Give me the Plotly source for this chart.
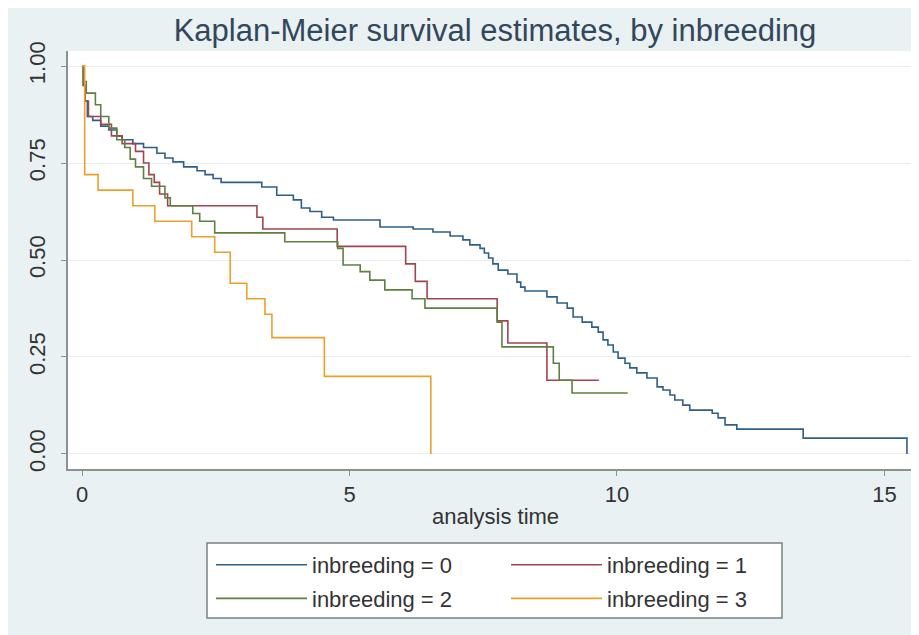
import plotly.graph_objects as go

# ---- data ----
names = ["inbreeding = 0", "inbreeding = 1", "inbreeding = 2", "inbreeding = 3"]
colors = ["#2f5f88", "#a04550", "#5f8040", "#eba02a"]

t0 = [0, 0.03, 0.06, 0.10, 0.20, 0.35, 0.50, 0.65, 0.75, 0.95, 1.15, 1.40, 1.55, 1.70, 1.90,
      2.15, 2.30, 2.45, 2.60, 3.36, 3.64, 3.95, 4.10, 4.26, 4.48, 4.70, 5.57, 6.19, 6.56, 6.88,
      7.12, 7.25, 7.44, 7.52, 7.60, 7.68, 7.78, 7.96, 8.13, 8.20, 8.28, 8.69, 8.88, 9.07, 9.18,
      9.35, 9.53, 9.65, 9.74, 9.83, 9.93, 10.02, 10.15, 10.24, 10.37, 10.56, 10.75, 10.86, 10.99,
      11.08, 11.23, 11.36, 11.78, 11.89, 12.02, 12.24, 13.48, 15.42]
s0 = [1, 0.95, 0.91, 0.87, 0.86, 0.845, 0.835, 0.82, 0.81, 0.80, 0.79, 0.775, 0.763, 0.753, 0.74,
      0.73, 0.72, 0.71, 0.70, 0.688, 0.667, 0.655, 0.634, 0.625, 0.61, 0.603, 0.585, 0.58, 0.572, 0.562,
      0.552, 0.539, 0.53, 0.518, 0.505, 0.49, 0.474, 0.464, 0.443, 0.43, 0.42, 0.405, 0.389, 0.376, 0.353,
      0.34, 0.327, 0.314, 0.294, 0.281, 0.263, 0.247, 0.234, 0.222, 0.209, 0.196, 0.173, 0.165, 0.152,
      0.139, 0.126, 0.113, 0.105, 0.093, 0.075, 0.064, 0.041, 0.0]

t1 = [0, 0.02, 0.06, 0.12, 0.35, 0.55, 0.75, 1.00, 1.15, 1.25, 1.35, 1.45, 1.60, 3.27, 3.38,
      4.77, 6.05, 6.23, 6.45, 7.76, 7.96, 8.69, 9.66]
s1 = [1, 0.95, 0.91, 0.87, 0.85, 0.82, 0.80, 0.78, 0.75, 0.72, 0.70, 0.67, 0.64, 0.61, 0.58,
      0.535, 0.49, 0.445, 0.40, 0.343, 0.286, 0.19, 0.19]

t2 = [0, 0.03, 0.08, 0.25, 0.35, 0.50, 0.65, 0.80, 0.90, 1.00, 1.15, 1.30, 1.55, 1.65, 2.07,
      2.20, 2.48, 3.79, 4.78, 4.88, 5.20, 5.38, 5.66, 6.17, 6.41, 7.76, 7.85, 8.81, 8.92, 9.16, 10.20]
s2 = [1, 0.96, 0.93, 0.90, 0.87, 0.84, 0.81, 0.79, 0.76, 0.74, 0.71, 0.69, 0.66, 0.64, 0.62,
      0.60, 0.57, 0.547, 0.53, 0.487, 0.47, 0.448, 0.423, 0.40, 0.376, 0.34, 0.276, 0.234, 0.19, 0.157, 0.157]

t3 = [0, 0.05, 0.30, 0.95, 1.36, 2.05, 2.48, 2.77, 3.08, 3.42, 3.55, 4.53, 6.52]
s3 = [1, 0.72, 0.68, 0.64, 0.60, 0.56, 0.52, 0.44, 0.40, 0.36, 0.30, 0.20, 0.0]

y_ticks = [0, 0.25, 0.5, 0.75, 1.0]
y_ticktext = ["0.00", "0.25", "0.50", "0.75", "1.00"]
x_ticks = [0, 5, 10, 15]

series = [(t0, s0), (t1, s1), (t2, s2), (t3, s3)]
legend_of = ["legend", "legend2", "legend", "legend2"]

FONT = "Liberation Sans, Arial, sans-serif"
BG = "#e9f1f3"
TXT = "#333333"
AX = "#8a9294"

fig = go.Figure()
for i, (t, s) in enumerate(series):
    fig.add_trace(go.Scatter(
        x=t, y=s, mode="lines", line=dict(color=colors[i], width=1.6, shape="hv"),
        name=names[i], legend=legend_of[i], legendgroup=f"g{i}",
    ))

W, H = 919, 635
L, R, T, B = 60, 4, 43, 174
pw, ph = W - L - R, H - T - B


def px_x(p):
    return (p - L) / pw


def px_y(p):
    return (H - B - p) / ph


legend_common = dict(
    orientation="v", bgcolor="rgba(0,0,0,0)", borderwidth=0,
    font=dict(family=FONT, size=22, color=TXT),
    itemwidth=91, tracegroupgap=2, xanchor="left", yanchor="top",
)

fig.update_layout(
    width=W, height=H,
    margin=dict(l=L, r=R, t=T, b=B),
    paper_bgcolor=BG,
    plot_bgcolor="white",
    font=dict(family=FONT),
    title=dict(text="Kaplan-Meier survival estimates, by inbreeding",
               x=487 / W, xanchor="center", y=1 - 22 / H, yanchor="middle",
               font=dict(family=FONT, size=31, color="#33475b")),
    showlegend=True,
    legend=dict(x=px_x(203), y=px_y(536), **legend_common),
    legend2=dict(x=px_x(498), y=px_y(536), **legend_common),
    shapes=[
        dict(type="rect", xref="paper", yref="paper", layer="below",
             x0=px_x(199), x1=px_x(774), y0=px_y(610), y1=px_y(535),
             fillcolor="white", line=dict(color="#7a8080", width=1.5)),
    ],
    xaxis=dict(
        range=[-0.262, 15.72], tickvals=x_ticks, showgrid=False, zeroline=False,
        showline=True, linecolor=AX, linewidth=1.5,
        ticks="outside", ticklen=5, tickcolor=AX, tickwidth=1,
        tickfont=dict(family=FONT, size=22, color=TXT),
        title=dict(text="analysis time", font=dict(family=FONT, size=22, color=TXT), standoff=2),
    ),
    yaxis=dict(
        range=[-0.0387, 1.0387], tickvals=y_ticks, ticktext=y_ticktext, tickangle=-90,
        showgrid=True, gridcolor="#e6eef0", gridwidth=1, zeroline=False,
        showline=True, linecolor=AX, linewidth=1.5,
        ticks="outside", ticklen=5, tickcolor=AX, tickwidth=1,
        ticklabelstandoff=7,
        tickfont=dict(family=FONT, size=22, color=TXT),
    ),
)

fig.write_html("out.html")
